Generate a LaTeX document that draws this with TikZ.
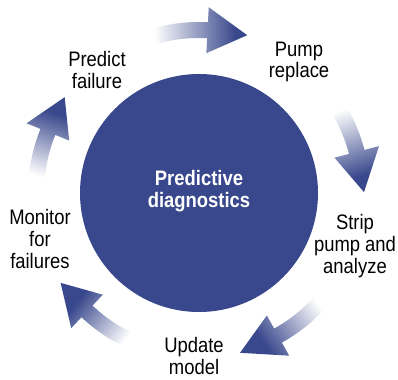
\documentclass[tikz,border=0pt]{standalone}
\usepackage{fontspec}
\setmainfont{Liberation Sans}[FakeStretch=0.88]
\definecolor{diagblue}{RGB}{57,72,140}
\pgfdeclarehorizontalshading{arrowfade}{100bp}{color(0bp)=(white); color(32bp)=(white); color(70bp)=(diagblue); color(100bp)=(diagblue)}

\begin{document}
\begin{tikzpicture}[x=0.025cm,y=0.025cm,
  stagetext/.style={align=center,inner sep=0pt,font=\fontsize{14.9}{15.6}\selectfont}]
\useasboundingbox (-199,-186) rectangle (199,193);

\fill[diagblue] (0,0) circle[radius=119];

% tail / head base / tip angles of the cycle arrows
\foreach \tail/\base/\tip in {111/87/73, 37/14.6/0.3, -35/-61/-75.6, -109/-133.4/-147, 181/158/144.5}{
  \pgfmathsetmacro{\midangle}{(\tail+\tip)/2-90}
  \shade[shading=arrowfade, shading angle=\midangle]
    (\tail:155) arc[start angle=\tail, end angle=\base, radius=155]
    -- (\base:140) -- (\tip:165) -- (\base:186) -- (\base:171)
    arc[start angle=\base, end angle=\tail, radius=171] -- cycle;
}

\node[stagetext,text=white,font=\fontsize{14.9}{15.6}\selectfont\bfseries] (hub) at (0,2) {Predictive\\diagnostics};

\node[stagetext] (predict) at (-102,123) {Predict\\failure};
\node[stagetext] (pump) at (100,131) {Pump\\replace};
\node[stagetext] (strip) at (156,-53) {Strip\\pump and\\analyze};
\node[stagetext] (update) at (-5,-163) {Update\\model};
\node[stagetext] (monitor) at (-159,-46) {Monitor\\for\\failures};

\end{tikzpicture}
\end{document}
